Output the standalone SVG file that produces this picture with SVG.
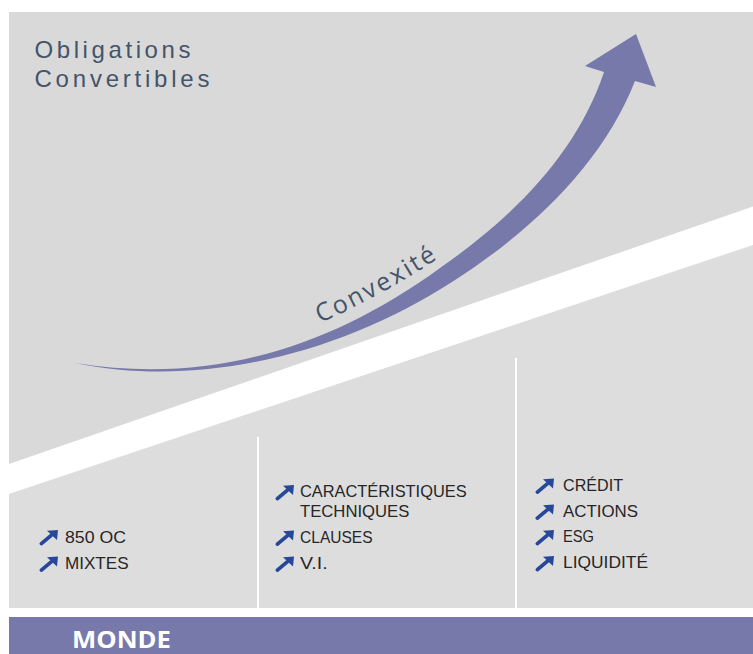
<svg xmlns="http://www.w3.org/2000/svg" width="753" height="654" viewBox="0 0 753 654">
  <style>
    .title { font-family: "Liberation Sans", Arial, sans-serif; font-size: 24px; fill: #44546a; }
    .conv { font-family: "Open Sans", "Liberation Sans", sans-serif; font-size: 25px; fill: #44546a; }
    .item { font-family: "Liberation Sans", Arial, sans-serif; font-size: 16.5px; fill: #262626; }
    .monde { font-family: "Open Sans", "Liberation Sans", sans-serif; font-size: 23px; font-weight: bold; fill: #ffffff; }
    .divider { stroke: #ffffff; stroke-width: 2; }
  </style>
  <defs>
    <g id="up">
      <path d="M1.4,13.6 L11.2,5.4" stroke="#27489a" stroke-width="3.8" stroke-linecap="round" fill="none"/>
      <polygon points="18,0 7,0.8 17,10" fill="#27489a"/>
    </g>
    <path id="convPath" d="M320,323 Q380,297 445,254" fill="none"/>
  </defs>

  <g id="background">
    <rect x="9" y="12" width="744" height="596" fill="#d9d9d9"/>
    <polygon points="9,494 753,245 753,608 9,608" fill="#dddddd"/>
    <polygon points="9,464 753,206.5 753,245 9,494" fill="#ffffff"/>
    <line class="divider" x1="258" y1="437" x2="258" y2="608"/>
    <line class="divider" x1="516" y1="358" x2="516" y2="608"/>
  </g>

  <g id="title">
    <text class="title" x="34.5" y="57.5" textLength="156" lengthAdjust="spacing">Obligations</text>
    <text class="title" x="34.5" y="86.5" textLength="175" lengthAdjust="spacing">Convertibles</text>
  </g>

  <g id="convexity-arrow">
    <path d="M75,363 C200,389 340,354 452,282 C530,232 602,165 635,81 L656,87 L636,34 L585,66 L604,72 C578,150 518,214 440,268 C330,348 210,385 75,363 Z" fill="#7679a9"/>
    <text class="conv"><textPath href="#convPath" startOffset="0" textLength="134" lengthAdjust="spacing">Convexité</textPath></text>
  </g>

  <g id="connectors"></g>

  <g id="col-marche">
    <use href="#up" x="40" y="530"/>
    <text class="item" x="65" y="542.5" textLength="61" lengthAdjust="spacingAndGlyphs">850 OC</text>
    <use href="#up" x="40" y="556.5"/>
    <text class="item" x="65" y="569" textLength="63.6" lengthAdjust="spacingAndGlyphs">MIXTES</text>
  </g>

  <g id="col-technique">
    <use href="#up" x="276" y="485"/>
    <text class="item" x="300" y="497.3" textLength="166.6" lengthAdjust="spacingAndGlyphs">CARACTÉRISTIQUES</text>
    <text class="item" x="300" y="516.8" textLength="109.3" lengthAdjust="spacingAndGlyphs">TECHNIQUES</text>
    <use href="#up" x="276" y="530.5"/>
    <text class="item" x="300" y="542.8" textLength="72.6" lengthAdjust="spacingAndGlyphs">CLAUSES</text>
    <use href="#up" x="276" y="556.5"/>
    <text class="item" x="300" y="569" textLength="27.6" lengthAdjust="spacingAndGlyphs">V.I.</text>
  </g>

  <g id="col-risques">
    <use href="#up" x="536" y="478.5"/>
    <text class="item" x="563" y="490.8" textLength="60" lengthAdjust="spacingAndGlyphs">CRÉDIT</text>
    <use href="#up" x="536" y="504.5"/>
    <text class="item" x="563" y="516.8" textLength="75" lengthAdjust="spacingAndGlyphs">ACTIONS</text>
    <use href="#up" x="536" y="530"/>
    <text class="item" x="563" y="542.2" textLength="31" lengthAdjust="spacingAndGlyphs">ESG</text>
    <use href="#up" x="536" y="556"/>
    <text class="item" x="563" y="568.4" textLength="85" lengthAdjust="spacingAndGlyphs">LIQUIDITÉ</text>
  </g>

  <g id="monde">
    <rect x="9" y="617" width="744" height="37" fill="#7679a9"/>
    <text class="monde" x="72" y="647.5" textLength="99" lengthAdjust="spacingAndGlyphs">MONDE</text>
  </g>
</svg>
